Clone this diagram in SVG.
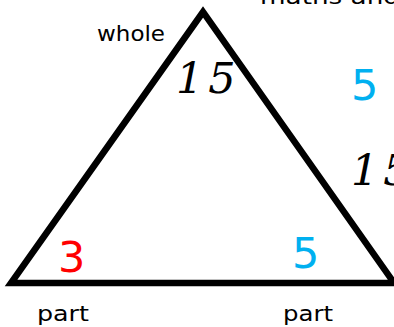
<svg xmlns="http://www.w3.org/2000/svg" width="394" height="327" viewBox="0 0 394 327">
<style>
.lbl{font-family:"DejaVu Sans","Liberation Sans",sans-serif;font-size:21px;fill:#000}
.num{font-family:"DejaVu Sans","Liberation Sans",sans-serif;font-size:43px}
.it{font-family:"DejaVu Serif","Liberation Serif",serif;font-style:italic;font-size:43px;fill:#000}
.blue{fill:#00B0F0}
.red{fill:#FF0000}
</style>
<rect width="394" height="327" fill="#fff"/>
<g id="connectors">
<polygon points="203,12 11,283 394,283" fill="none" stroke="#000" stroke-width="6.5" stroke-linejoin="miter"/>
</g>
<g id="title"><text class="lbl" x="260" y="4" textLength="140" lengthAdjust="spacingAndGlyphs">maths and</text></g>
<g id="whole"><text class="lbl" x="97" y="41" textLength="68" lengthAdjust="spacingAndGlyphs">whole</text></g>
<g id="n15top"><text class="it" x="176" y="93" letter-spacing="5">15</text></g>
<g id="n5right"><text class="num blue" x="351" y="100">5</text></g>
<g id="n15right"><text class="it" x="351" y="185" letter-spacing="5">15</text></g>
<g id="n3"><text class="num red" x="58" y="272">3</text></g>
<g id="n5bottom"><text class="num blue" x="292" y="268">5</text></g>
<g id="partL"><text class="lbl" x="37" y="321" textLength="52" lengthAdjust="spacingAndGlyphs">part</text></g>
<g id="partR"><text class="lbl" x="283" y="321" textLength="50" lengthAdjust="spacingAndGlyphs">part</text></g>
</svg>
